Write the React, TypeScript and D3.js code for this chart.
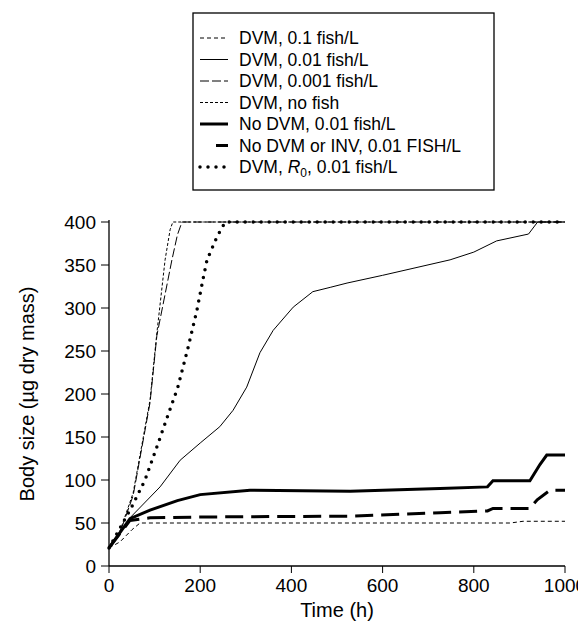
import * as d3 from 'd3';

type Pt = [number, number];

const xTicks = [0, 200, 400, 600, 800, 1000];
const yTicks = [0, 50, 100, 150, 200, 250, 300, 350, 400];

const dvm01: Pt[] = [[0, 21], [24, 28], [50, 42], [68, 50], [100, 50], [880, 50], [908, 52], [1000, 52]];
const dvm001: Pt[] = [[0, 21], [46, 56], [112, 92], [156, 123], [200, 143], [243, 162], [272, 181], [302, 208], [331, 248], [360, 274], [404, 301], [447, 319], [485, 324], [522, 329], [600, 338], [748, 356], [800, 365], [850, 378], [920, 386], [940, 400], [1000, 400]];
const dvm0001: Pt[] = [[0, 21], [25, 40], [53, 82], [90, 190], [105, 268], [138, 356], [150, 385], [160, 400], [1000, 400]];
const dvmNoFish: Pt[] = [[0, 21], [25, 42], [53, 85], [90, 193], [105, 271], [123, 356], [134, 391], [140, 400], [1000, 400]];
const noDvm: Pt[] = [[0, 21], [46, 55], [90, 65], [150, 76], [200, 83], [309, 88], [529, 87], [726, 90], [830, 92], [842, 99], [923, 99], [945, 118], [960, 129], [1000, 129]];
const noDvmInv: Pt[] = [[0, 21], [46, 53], [90, 56], [200, 57], [529, 58], [726, 62], [830, 64], [842, 67], [923, 67], [939, 77], [967, 88], [1000, 88]];
const dvmR0: Pt[] = [[0, 21], [50, 69], [79, 100], [108, 143], [129, 175], [151, 208], [173, 253], [193, 298], [206, 333], [215, 356], [237, 383], [255, 400], [1000, 400]];

const series = [
  { label: 'DVM, 0.1 fish/L', data: dvm01, w: 1, dash: '4,3', cap: 'butt', sx: 200 },
  { label: 'DVM, 0.01 fish/L', data: dvm001, w: 1, dash: '', cap: 'butt', sx: 200 },
  { label: 'DVM, 0.001 fish/L', data: dvm0001, w: 1, dash: '9,3', cap: 'butt', sx: 200 },
  { label: 'DVM, no fish', data: dvmNoFish, w: 1, dash: '3,2', cap: 'butt', sx: 200 },
  { label: 'No DVM, 0.01 fish/L', data: noDvm, w: 3, dash: '', cap: 'butt', sx: 200 },
  { label: 'No DVM or INV, 0.01 FISH/L', data: noDvmInv, w: 3, dash: '18,8', cap: 'butt', sx: 216 },
  { label: 'DVM, R0, 0.01 fish/L', data: dvmR0, w: 3.5, dash: '0,8', cap: 'round', sx: 200 },
];

const left = 109, right = 565, top = 222, bottom = 566;

export default function App() {
  const x = d3.scaleLinear().domain([0, 1000]).range([left, right]);
  const y = d3.scaleLinear().domain([0, 400]).range([bottom, top]);
  const line = d3.line<Pt>().x(d => x(d[0])).y(d => y(d[1]));
  const font = 'Helvetica, Arial, "Liberation Sans", sans-serif';
  const lx = 239, ly = 38, lh = 21.5;
  return (
    <svg width={578} height={614} style={{ display: 'block', fontFamily: font }} viewBox="0 0 578 614">
      <g transform="translate(-8,-8)">
        <rect x={193} y={13} width={301} height={177} fill="none" stroke="#000" strokeWidth={1.3} />
        {series.map((s, i) => (
          <g key={s.label}>
            <line x1={s.sx} x2={228} y1={ly + i * lh} y2={ly + i * lh} stroke="#000"
              strokeWidth={s.w} strokeDasharray={s.dash || undefined} strokeLinecap={s.cap as any} />
            {i === 6 ? (
              <text x={lx} y={ly + i * lh + 6} fontSize={17.5}>
                DVM, <tspan fontStyle="italic">R</tspan><tspan fontSize={12} dy={4}>0</tspan><tspan dy={-4}>, 0.01 fish/L</tspan>
              </text>
            ) : (
              <text x={lx} y={ly + i * lh + 6} fontSize={17.5}>{s.label}</text>
            )}
          </g>
        ))}
        <line x1={left} x2={left} y1={top - 2} y2={bottom} stroke="#000" strokeWidth={1.3} />
        <line x1={left} x2={right} y1={bottom} y2={bottom} stroke="#000" strokeWidth={1.3} />
        {yTicks.map(t => (
          <g key={t}>
            <line x1={left - 8} x2={left} y1={y(t)} y2={y(t)} stroke="#000" />
            <text x={left - 13} y={y(t) + 7} fontSize={19} textAnchor="end">{t}</text>
          </g>
        ))}
        {xTicks.map(t => (
          <g key={t}>
            <line x1={x(t)} x2={x(t)} y1={bottom} y2={bottom + 7} stroke="#000" />
            <text x={x(t)} y={bottom + 26} fontSize={19} textAnchor="middle">{t}</text>
          </g>
        ))}
        <text x={(left + right) / 2} y={bottom + 51} fontSize={20} textAnchor="middle">Time (h)</text>
        <text transform={`translate(34,${(top + bottom) / 2}) rotate(-90)`} fontSize={20} textAnchor="middle">Body size (µg dry mass)</text>
        {series.map(s => (
          <path key={s.label} d={line(s.data) || ''} fill="none" stroke="#000" strokeWidth={s.w}
            strokeDasharray={s.dash || undefined} strokeLinecap={s.cap as any} />
        ))}
      </g>
    </svg>
  );
}
